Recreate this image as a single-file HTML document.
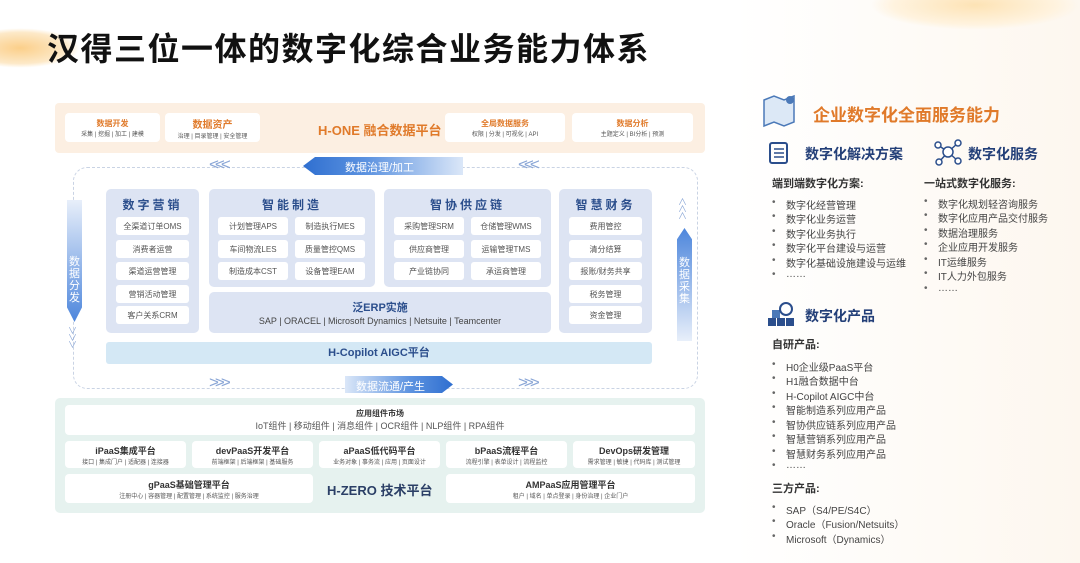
<!DOCTYPE html>
<html><head><meta charset="utf-8"><style>
*{margin:0;padding:0;box-sizing:border-box}
body{width:1080px;height:563px;position:relative;overflow:hidden;background:#fff;font-family:"Liberation Sans","Noto Sans CJK SC",sans-serif}
.a{position:absolute}
.b{position:absolute;background:#fff;border-radius:4px;text-align:center;color:#555}
.t{font-weight:bold}
.c{display:flex;flex-direction:column;justify-content:center;align-items:center}
.col{position:absolute;background:#dde4f3;border-radius:5px}
.it{position:absolute;background:#fff;border-radius:3px;font-size:8px;color:#555;display:flex;align-items:center;justify-content:center;height:18px}
.ch{position:absolute;color:#8aa6d6;font-size:17px;letter-spacing:-4px;transform:scaleY(0.9)}
.li{position:absolute;font-size:10px;color:#444;white-space:nowrap}
.li:before{content:"•";position:absolute;left:-14px;color:#666}
</style></head><body>
<!-- decorations -->
<div class="a" style="left:0;top:0;width:1080px;height:563px;background:linear-gradient(90deg,#fff 0%,#fff 68%,#fdf7ef 100%)"></div>
<div class="a" style="left:-40px;top:28px;width:120px;height:40px;border-radius:50%;background:radial-gradient(#fbcf8a,#fde9c8 55%,transparent 70%)"></div>
<div class="a" style="left:870px;top:-20px;width:210px;height:50px;border-radius:50%;background:radial-gradient(#fde3b5,#fff3df 55%,transparent 70%)"></div>
<div class="a t" style="left:47px;top:24px;font-size:32px;color:#111;letter-spacing:1.5px">汉得三位一体的数字化综合业务能力体系</div>

<!-- top band -->
<div class="a" style="left:55px;top:103px;width:650px;height:50px;background:#fcefe2;border-radius:4px"></div>
<div class="b c" style="left:65px;top:113px;width:95px;height:29px"><div class="t" style="font-size:8px;color:#e07a2a">数据开发</div><div style="font-size:6px">采集 | 挖掘 | 加工 | 建模</div></div>
<div class="b c" style="left:165px;top:113px;width:95px;height:29px"><div class="t" style="font-size:10px;color:#e07a2a">数据资产</div><div style="font-size:6px">治理 | 目录管理 | 安全管理</div></div>
<div class="a t" style="left:318px;top:120px;font-size:13px;color:#e07a2a">H-ONE 融合数据平台</div>
<div class="b c" style="left:445px;top:113px;width:120px;height:29px"><div class="t" style="font-size:8px;color:#e07a2a">全局数据服务</div><div style="font-size:6px">权限 | 分发 | 可视化 | API</div></div>
<div class="b c" style="left:572px;top:113px;width:121px;height:29px"><div class="t" style="font-size:8px;color:#e07a2a">数据分析</div><div style="font-size:6px">主题定义 | BI分析 | 预测</div></div>

<!-- dashed loop -->
<div class="a" style="left:73px;top:167px;width:625px;height:222px;border:1px dashed #c9d3e4;border-radius:14px"></div>
<div class="a" style="left:303px;top:157px;width:160px;height:18px;background:linear-gradient(90deg,#2f6fd0,#5d93e0 40%,#dbe7f8);clip-path:polygon(12px 0,100% 0,100% 100%,12px 100%,0 50%)"></div>
<div class="a" style="left:345px;top:159px;font-size:11px;color:#fff">数据治理/加工</div>
<div class="ch" style="left:209px;top:155px">&lt;&lt;&lt;</div>
<div class="ch" style="left:518px;top:155px">&lt;&lt;&lt;</div>

<div class="a" style="left:345px;top:376px;width:108px;height:17px;background:linear-gradient(90deg,#dbe7f8,#5d93e0 60%,#2f6fd0);clip-path:polygon(0 0,calc(100% - 11px) 0,100% 50%,calc(100% - 11px) 100%,0 100%)"></div>
<div class="a" style="left:356px;top:378px;font-size:11px;color:#fff">数据流通/产生</div>
<div class="ch" style="left:209px;top:373px">&gt;&gt;&gt;</div>
<div class="ch" style="left:518px;top:373px">&gt;&gt;&gt;</div>

<!-- side arrows -->
<div class="a" style="left:67px;top:200px;width:15px;height:122px;background:linear-gradient(180deg,#e8effa,#4d86dc);clip-path:polygon(0 0,100% 0,100% 88%,50% 100%,0 88%)"></div>
<div class="a" style="left:67px;top:256px;width:15px;font-size:11px;color:#fff;line-height:12px;text-align:center">数<br>据<br>分<br>发</div>
<div class="a" style="left:68px;top:328px;color:#8aa6d6;font-size:9px;line-height:7px">∨<br>∨<br>∨</div>
<div class="a" style="left:677px;top:228px;width:15px;height:113px;background:linear-gradient(0deg,#e8effa,#4d86dc);clip-path:polygon(50% 0,100% 10%,100% 100%,0 100%,0 10%)"></div>
<div class="a" style="left:677px;top:257px;width:15px;font-size:11px;color:#fff;line-height:12px;text-align:center">数<br>据<br>采<br>集</div>
<div class="a" style="left:678px;top:199px;color:#8aa6d6;font-size:9px;line-height:7px">∧<br>∧<br>∧</div>

<!-- columns -->
<div class="col" style="left:106px;top:189px;width:93px;height:144px"></div>
<div class="a t" style="left:106px;top:196px;width:93px;text-align:center;font-size:12px;color:#2b4e8c;letter-spacing:3px">数字营销</div>
<div class="it" style="left:116px;top:217px;width:73px">全渠道订单OMS</div>
<div class="it" style="left:116px;top:240px;width:73px">消费者运营</div>
<div class="it" style="left:116px;top:262px;width:73px">渠道运营管理</div>
<div class="it" style="left:116px;top:285px;width:73px">营销活动管理</div>
<div class="it" style="left:116px;top:306px;width:73px">客户关系CRM</div>

<div class="col" style="left:209px;top:189px;width:166px;height:98px"></div>
<div class="a t" style="left:209px;top:196px;width:166px;text-align:center;font-size:12px;color:#2b4e8c;letter-spacing:3px">智能制造</div>
<div class="it" style="left:218px;top:217px;width:70px">计划管理APS</div>
<div class="it" style="left:295px;top:217px;width:70px">制造执行MES</div>
<div class="it" style="left:218px;top:240px;width:70px">车间物流LES</div>
<div class="it" style="left:295px;top:240px;width:70px">质量管控QMS</div>
<div class="it" style="left:218px;top:262px;width:70px">制造成本CST</div>
<div class="it" style="left:295px;top:262px;width:70px">设备管理EAM</div>

<div class="col" style="left:384px;top:189px;width:167px;height:98px"></div>
<div class="a t" style="left:384px;top:196px;width:167px;text-align:center;font-size:12px;color:#2b4e8c;letter-spacing:3px">智协供应链</div>
<div class="it" style="left:394px;top:217px;width:70px">采购管理SRM</div>
<div class="it" style="left:471px;top:217px;width:70px">仓储管理WMS</div>
<div class="it" style="left:394px;top:240px;width:70px">供应商管理</div>
<div class="it" style="left:471px;top:240px;width:70px">运输管理TMS</div>
<div class="it" style="left:394px;top:262px;width:70px">产业链协同</div>
<div class="it" style="left:471px;top:262px;width:70px">承运商管理</div>

<div class="col" style="left:209px;top:292px;width:342px;height:41px"></div>
<div class="a t" style="left:209px;top:299px;width:342px;text-align:center;font-size:11px;color:#2b4e8c">泛ERP实施</div>
<div class="a" style="left:209px;top:316px;width:342px;text-align:center;font-size:9px;color:#444">SAP | ORACEL | Microsoft Dynamics | Netsuite | Teamcenter</div>

<div class="col" style="left:559px;top:189px;width:93px;height:144px"></div>
<div class="a t" style="left:559px;top:196px;width:93px;text-align:center;font-size:12px;color:#2b4e8c;letter-spacing:3px">智慧财务</div>
<div class="it" style="left:569px;top:217px;width:73px">费用管控</div>
<div class="it" style="left:569px;top:240px;width:73px">清分结算</div>
<div class="it" style="left:569px;top:262px;width:73px">报账/财务共享</div>
<div class="it" style="left:569px;top:285px;width:73px">税务管理</div>
<div class="it" style="left:569px;top:306px;width:73px">资金管理</div>

<div class="a" style="left:106px;top:342px;width:546px;height:22px;background:#d4e8f5;border-radius:3px;text-align:center;font-size:11px;font-weight:bold;color:#2b4e8c;line-height:22px">H-Copilot AIGC平台</div>

<!-- bottom band -->
<div class="a" style="left:55px;top:398px;width:650px;height:115px;background:#e6f2ef;border-radius:5px"></div>
<div class="b c" style="left:65px;top:405px;width:630px;height:30px"><div class="t" style="font-size:8px;color:#333">应用组件市场</div><div style="font-size:9px">IoT组件 | 移动组件 | 消息组件 | OCR组件 | NLP组件 | RPA组件</div></div>
<div class="b c" style="left:65px;top:441px;width:121px;height:27px"><div class="t" style="font-size:9px;color:#333">iPaaS集成平台</div><div style="font-size:6px">接口 | 集成门户 | 适配器 | 连接器</div></div>
<div class="b c" style="left:192px;top:441px;width:121px;height:27px"><div class="t" style="font-size:9px;color:#333">devPaaS开发平台</div><div style="font-size:6px">前端框架 | 后端框架 | 基础服务</div></div>
<div class="b c" style="left:319px;top:441px;width:121px;height:27px"><div class="t" style="font-size:9px;color:#333">aPaaS低代码平台</div><div style="font-size:6px">业务对象 | 事务流 | 应用 | 页面设计</div></div>
<div class="b c" style="left:446px;top:441px;width:121px;height:27px"><div class="t" style="font-size:9px;color:#333">bPaaS流程平台</div><div style="font-size:6px">流程引擎 | 表单设计 | 流程监控</div></div>
<div class="b c" style="left:573px;top:441px;width:122px;height:27px"><div class="t" style="font-size:9px;color:#333">DevOps研发管理</div><div style="font-size:6px">需求管理 | 敏捷 | 代码库 | 测试管理</div></div>
<div class="b c" style="left:65px;top:474px;width:248px;height:29px"><div class="t" style="font-size:9px;color:#333">gPaaS基础管理平台</div><div style="font-size:6px">注册中心 | 容器管理 | 配置管理 | 系统监控 | 服务治理</div></div>
<div class="a t" style="left:327px;top:480px;font-size:13px;color:#2b3f66">H-ZERO 技术平台</div>
<div class="b c" style="left:446px;top:474px;width:249px;height:29px"><div class="t" style="font-size:9px;color:#333">AMPaaS应用管理平台</div><div style="font-size:6px">租户 | 域名 | 单点登录 | 身份治理 | 企业门户</div></div>

<!-- right panel -->
<svg class="a" style="left:760px;top:92px" width="40" height="36"><path d="M4 8 L14 4 L24 8 L34 4 L34 30 L24 34 L14 30 L4 34Z" fill="#dce8f6" stroke="#4b79b8" stroke-width="1.5"/><circle cx="30" cy="8" r="4" fill="#4b79b8"/></svg>
<div class="a t" style="left:813px;top:101px;font-size:17px;color:#e07a2a">企业数字化全面服务能力</div>
<svg class="a" style="left:768px;top:140px" width="22" height="24"><rect x="2" y="3" width="17" height="20" rx="2" fill="none" stroke="#2b4e8c" stroke-width="2"/><path d="M6 9h10M6 13h10M6 17h10" stroke="#2b4e8c" stroke-width="1.5"/></svg>
<div class="a t" style="left:805px;top:144px;font-size:14px;color:#233f78">数字化解决方案</div>
<svg class="a" style="left:933px;top:137px" width="30" height="30"><g stroke="#2b4e8c" stroke-width="1.5" fill="#fff"><line x1="15" y1="15" x2="5" y2="8"/><line x1="15" y1="15" x2="25" y2="6"/><line x1="15" y1="15" x2="6" y2="25"/><line x1="15" y1="15" x2="25" y2="24"/><circle cx="15" cy="15" r="5"/><circle cx="5" cy="8" r="3"/><circle cx="25" cy="6" r="3"/><circle cx="6" cy="25" r="3"/><circle cx="25" cy="24" r="3"/></g></svg>
<div class="a t" style="left:968px;top:144px;font-size:14px;color:#233f78">数字化服务</div>
<div class="a t" style="left:772px;top:175px;font-size:11px;color:#333">端到端数字化方案:</div>
<div class="li" style="left:786px;top:197px">数字化经营管理</div>
<div class="li" style="left:786px;top:211px">数字化业务运营</div>
<div class="li" style="left:786px;top:226px">数字化业务执行</div>
<div class="li" style="left:786px;top:240px">数字化平台建设与运营</div>
<div class="li" style="left:786px;top:255px">数字化基础设施建设与运维</div>
<div class="li" style="left:786px;top:269px">……</div>
<div class="a t" style="left:924px;top:175px;font-size:11px;color:#333">一站式数字化服务:</div>
<div class="li" style="left:938px;top:196px">数字化规划轻咨询服务</div>
<div class="li" style="left:938px;top:210px">数字化应用产品交付服务</div>
<div class="li" style="left:938px;top:225px">数据治理服务</div>
<div class="li" style="left:938px;top:239px">企业应用开发服务</div>
<div class="li" style="left:938px;top:254px">IT运维服务</div>
<div class="li" style="left:938px;top:268px">IT人力外包服务</div>
<div class="li" style="left:938px;top:283px">……</div>
<svg class="a" style="left:767px;top:300px" width="30" height="28"><rect x="1" y="18" width="8" height="8" fill="#2b4e8c"/><rect x="10" y="18" width="8" height="8" fill="#2b4e8c"/><rect x="19" y="18" width="8" height="8" fill="#2b4e8c"/><rect x="5" y="10" width="8" height="8" fill="#4b79b8"/><circle cx="19" cy="9" r="6" fill="#fff" stroke="#2b4e8c" stroke-width="2"/></svg>
<div class="a t" style="left:805px;top:306px;font-size:14px;color:#233f78">数字化产品</div>
<div class="a t" style="left:772px;top:336px;font-size:11px;color:#333">自研产品:</div>
<div class="li" style="left:786px;top:359px">H0企业级PaaS平台</div>
<div class="li" style="left:786px;top:373px">H1融合数据中台</div>
<div class="li" style="left:786px;top:388px">H-Copilot AIGC中台</div>
<div class="li" style="left:786px;top:402px">智能制造系列应用产品</div>
<div class="li" style="left:786px;top:417px">智协供应链系列应用产品</div>
<div class="li" style="left:786px;top:431px">智慧营销系列应用产品</div>
<div class="li" style="left:786px;top:446px">智慧财务系列应用产品</div>
<div class="li" style="left:786px;top:460px">……</div>
<div class="a t" style="left:772px;top:480px;font-size:11px;color:#333">三方产品:</div>
<div class="li" style="left:786px;top:502px">SAP（S4/PE/S4C）</div>
<div class="li" style="left:786px;top:516px">Oracle（Fusion/Netsuits）</div>
<div class="li" style="left:786px;top:531px">Microsoft（Dynamics）</div>
</body></html>
